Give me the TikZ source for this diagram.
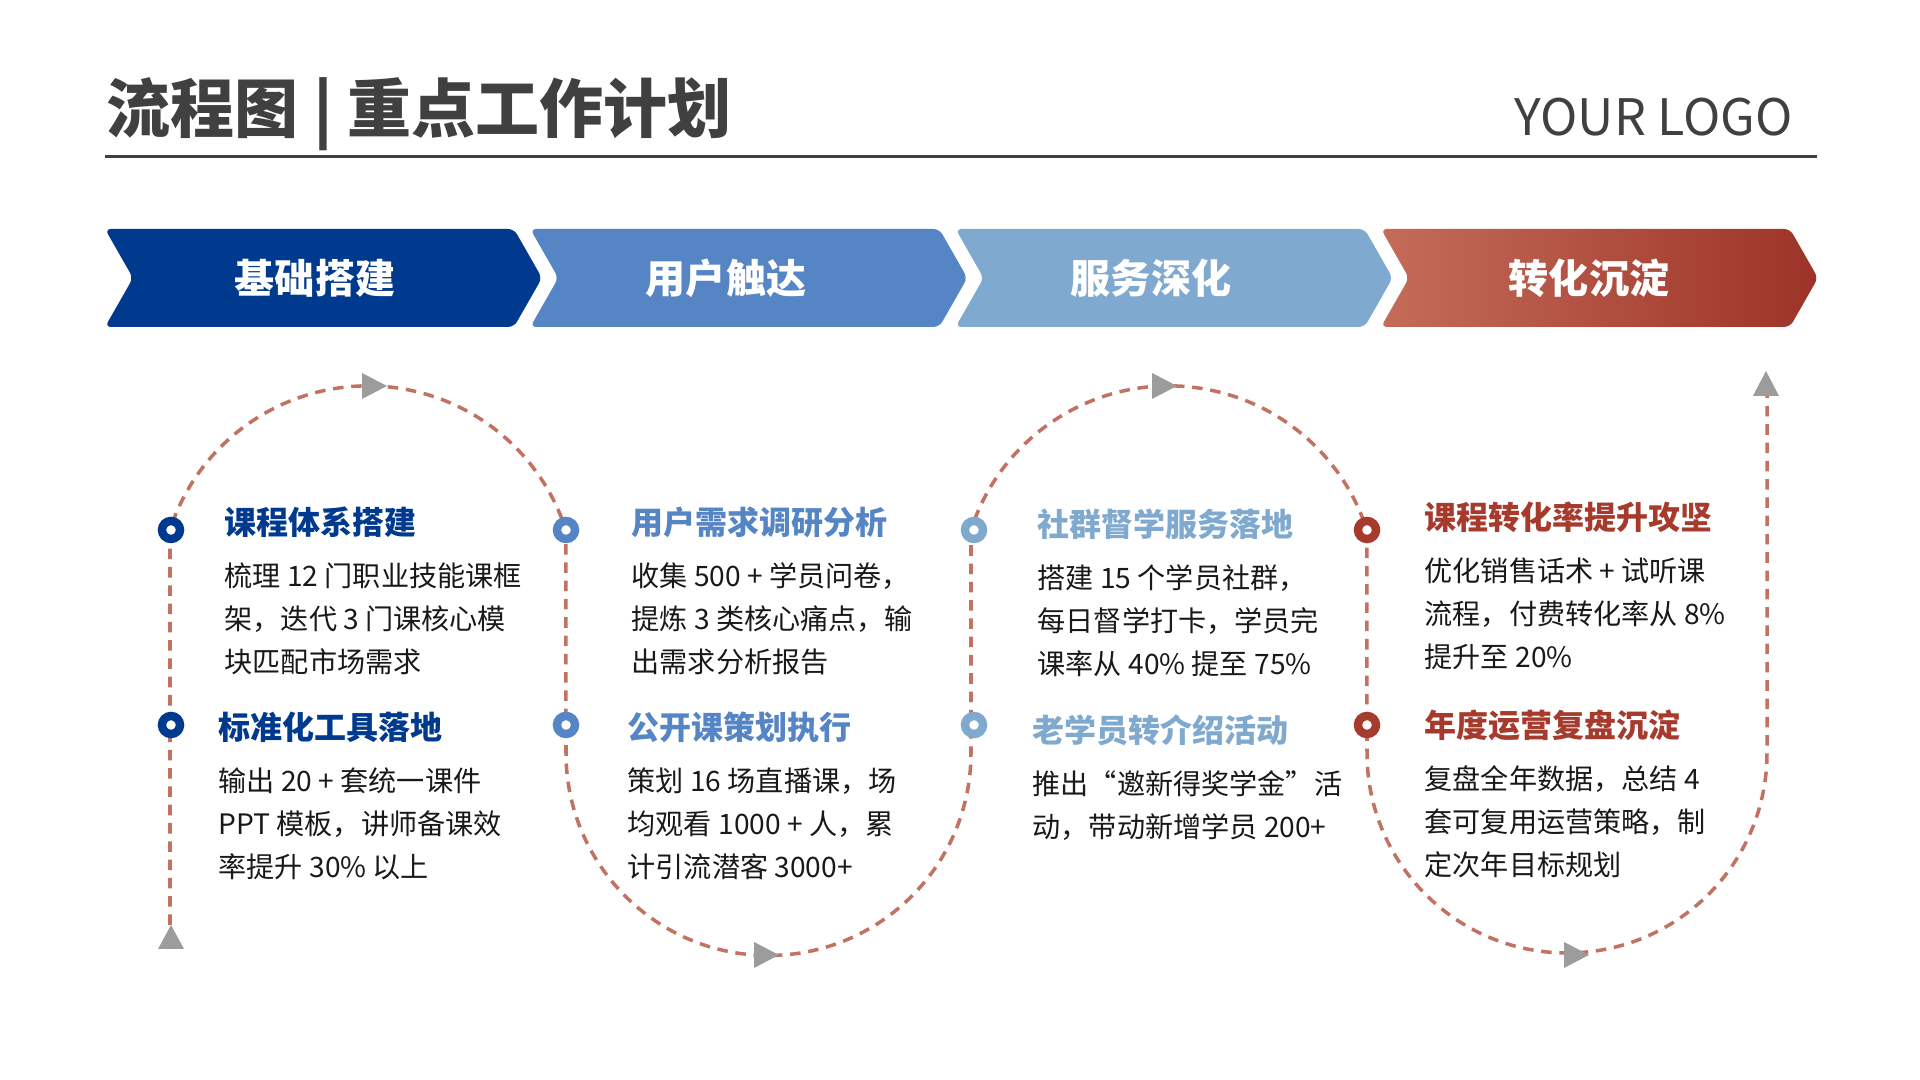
\documentclass[tikz,border=0pt]{standalone}
\usepackage{fontspec}
\setmainfont{Noto Sans CJK SC}
\usepackage{xcolor}
\usetikzlibrary{positioning}

\definecolor{inkgray}{HTML}{404040}
\definecolor{navy}{HTML}{003A8E}
\definecolor{midblue}{HTML}{5585C4}
\definecolor{paleblue}{HTML}{7FA9CE}
\definecolor{rustl}{HTML}{C46C59}
\definecolor{rustd}{HTML}{9D3328}
\definecolor{rustt}{HTML}{A63B2D}
\definecolor{trail}{HTML}{C27261}
\definecolor{tipgray}{HTML}{9C9C9C}

\begin{document}
\begin{tikzpicture}[
      x=0.01cm, y=0.01cm,
      chevtxt/.style={text=white, inner sep=0, font=\bfseries\fontsize{11.4}{13}\selectfont},
      head/.style={anchor=west, inner sep=0, font=\bfseries\fontsize{9.1}{11}\selectfont},
      body/.style={inner sep=0, align=left, text=black!90, font=\fontsize{8}{12.2}\selectfont},
      ring/.style={circle, fill=white, line width=2.4pt, minimum size=0.18cm, inner sep=0},
      tri/.style={fill=tipgray},
      trailline/.style={trail, line width=1pt, dash pattern=on 3pt off 2.2pt},
    ]
    \useasboundingbox[fill=white] (0,0) rectangle (1920,1080);

    % header
    \node[anchor=west, inner sep=0, text=inkgray, font=\bfseries\fontsize{18.2}{20}\selectfont] (title) at (106,966) {流程图 | 重点工作计划};
    \node[anchor=east, inner sep=0, text=inkgray, font=\fontsize{14.3}{17}\selectfont] (logo) at (1793,963) {YOUR LOGO};
    \draw[inkgray, line width=0.85pt] (105,923) -- (1817,923);

    % stage arrows
    \foreach \i/\col in {0/navy, 1/midblue, 2/paleblue}
      \fill[\col, rounded corners=1.7pt] ({105+425.3*\i},851) -- ++(409,0) -- ++(28,-49) -- ++(-28,-49) -- ++(-409,0) -- ++(28,49) -- cycle;
    \shade[left color=rustl, right color=rustd, rounded corners=1.7pt] (1381,851) -- ++(409,0) -- ++(28,-49) -- ++(-28,-49) -- ++(-409,0) -- ++(28,49) -- cycle;

    \node[chevtxt] (s1) at (315,802) {基础搭建};
    \node[chevtxt] (s2) at (726,802) {用户触达};
    \node[chevtxt] (s3) at (1151,802) {服务深化};
    \node[chevtxt] (s4) at (1589,802) {转化沉淀};

    % winding trail
    \draw[trailline] (170,155) -- (170,550)
      arc[start angle=162.1, end angle=17.9, radius=208] -- (566,327)
      arc[start angle=180, end angle=360, radius=202.5] -- (971,550)
      arc[start angle=162.1, end angle=17.9, radius=208] -- (1367,327)
      arc[start angle=180, end angle=360, radius=200] -- (1767,684);

    \fill[tri] (171,155) -- (158,131) -- (184,131) -- cycle;
    \fill[tri] (387,694) -- (362,707) -- (362,681) -- cycle;
    \fill[tri] (779,125) -- (754,138) -- (754,112) -- cycle;
    \fill[tri] (1177,694) -- (1152,707) -- (1152,681) -- cycle;
    \fill[tri] (1589,125) -- (1564,138) -- (1564,112) -- cycle;
    \fill[tri] (1766,709) -- (1753,684) -- (1779,684) -- cycle;

    \node[ring, draw=navy] (r1a) at (171,550) {};
    \node[ring, draw=navy] (r1b) at (171,355) {};
    \node[ring, draw=midblue] (r2a) at (566,550) {};
    \node[ring, draw=midblue] (r2b) at (566,355) {};
    \node[ring, draw=paleblue] (r3a) at (974,550) {};
    \node[ring, draw=paleblue] (r3b) at (974,355) {};
    \node[ring, draw=rustt] (r4a) at (1367,550) {};
    \node[ring, draw=rustt] (r4b) at (1367,355) {};

    % column 1
    \node[head, text=navy] (h1a) at (224,558) {课程体系搭建};
    \node[body, below=0.24cm of h1a.south west, anchor=north west] (b1a) {梳理 12 门职业技能课框\\架，迭代 3 门课核心模\\块匹配市场需求};
    \node[head, text=navy] (h1b) at (218,353) {标准化工具落地};
    \node[body, below=0.24cm of h1b.south west, anchor=north west] (b1b) {输出 20 + 套统一课件\\PPT 模板，讲师备课效\\率提升 30\% 以上};

    % column 2
    \node[head, text=midblue] (h2a) at (631,558) {用户需求调研分析};
    \node[body, below=0.24cm of h2a.south west, anchor=north west] (b2a) {收集 500 + 学员问卷，\\提炼 3 类核心痛点，输\\出需求分析报告};
    \node[head, text=midblue] (h2b) at (627,353) {公开课策划执行};
    \node[body, below=0.24cm of h2b.south west, anchor=north west] (b2b) {策划 16 场直播课，场\\均观看 1000 + 人，累\\计引流潜客 3000+};

    % column 3
    \node[head, text=paleblue] (h3a) at (1037,556) {社群督学服务落地};
    \node[body, below=0.24cm of h3a.south west, anchor=north west] (b3a) {搭建 15 个学员社群，\\每日督学打卡，学员完\\课率从 40\% 提至 75\%};
    \node[head, text=paleblue] (h3b) at (1032,350) {老学员转介绍活动};
    \node[body, below=0.24cm of h3b.south west, anchor=north west] (b3b) {推出“邀新得奖学金”活\\动，带动新增学员 200+};

    % column 4
    \node[head, text=rustt] (h4a) at (1424,563) {课程转化率提升攻坚};
    \node[body, below=0.24cm of h4a.south west, anchor=north west] (b4a) {优化销售话术 + 试听课\\流程，付费转化率从 8\%\\提升至 20\%};
    \node[head, text=rustt] (h4b) at (1424,355) {年度运营复盘沉淀};
    \node[body, below=0.24cm of h4b.south west, anchor=north west] (b4b) {复盘全年数据，总结 4\\套可复用运营策略，制\\定次年目标规划};
\end{tikzpicture}
\end{document}
